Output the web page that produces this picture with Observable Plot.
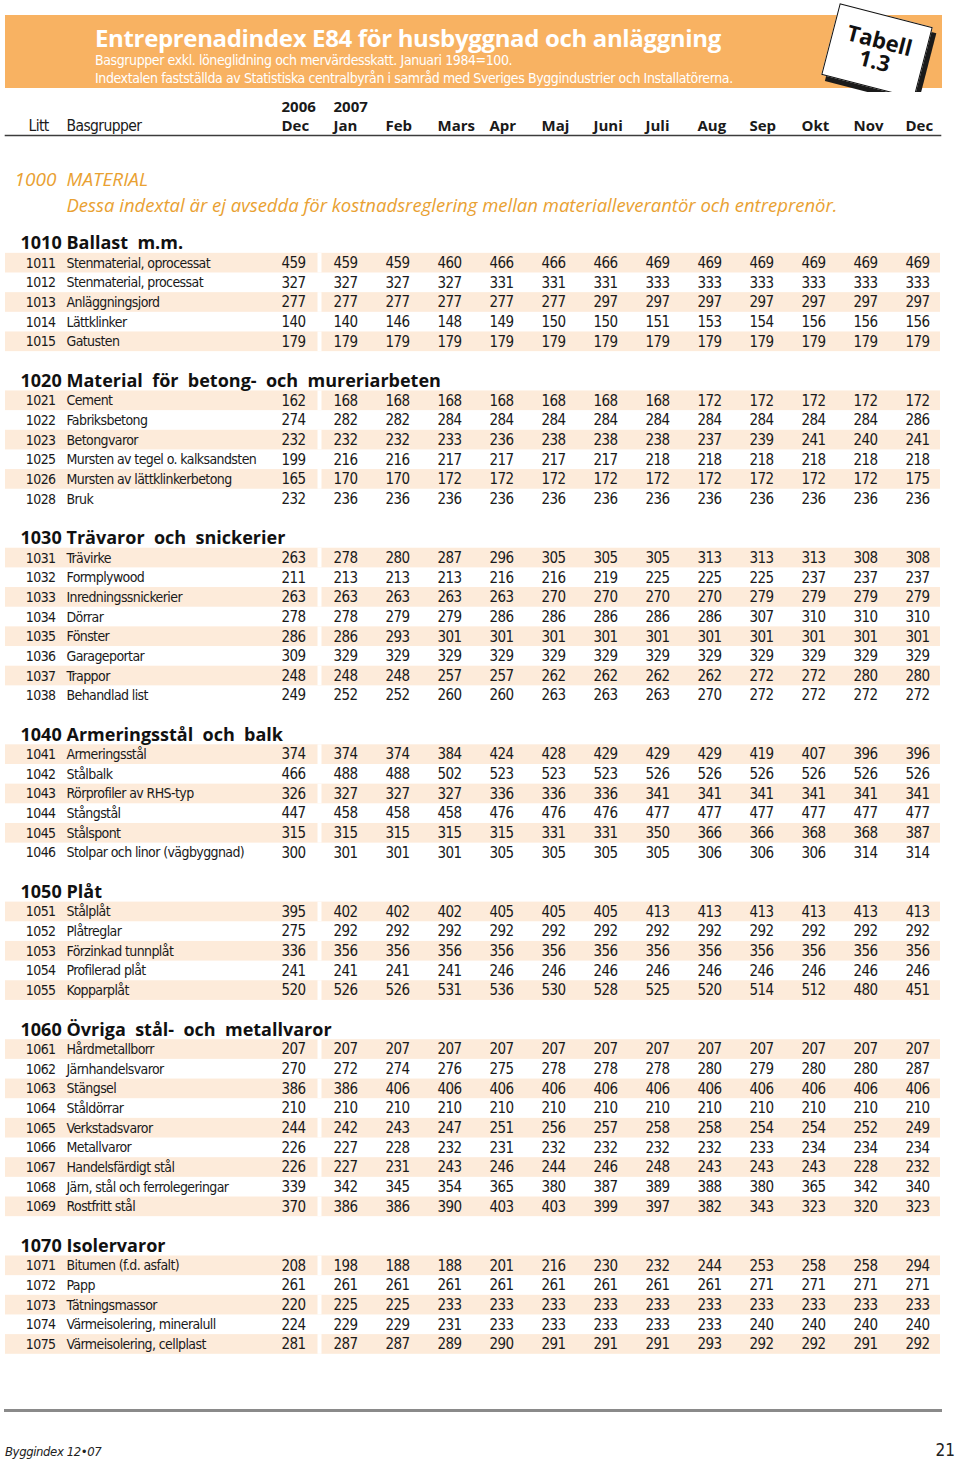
<!DOCTYPE html>
<html>
<head>
<meta charset="utf-8">
<script src="https://cdn.jsdelivr.net/npm/d3@7"></script>
<script src="https://cdn.jsdelivr.net/npm/@observablehq/plot@0.6"></script>
<style>
  body { margin: 0; background: #fff; }
  #page { position: relative; width: 960px; height: 1460px; overflow: hidden;
          font-family: "Liberation Sans Narrow", "DejaVu Sans Condensed", "Arial Narrow", sans-serif; }
  #band { position: absolute; left: 5px; top: 15px; width: 937px; height: 73px; background: #F8B262; }
  #title { position: absolute; left: 95px; top: 21px; color: #fff; font: bold 24px "Open Sans", sans-serif; letter-spacing: -0.35px; white-space: nowrap; }
  .sub { position: absolute; left: 95px; color: #fff; font-size: 14px; letter-spacing: -0.4px; white-space: nowrap; }
  #tabell { position: absolute; left: 829px; top: 14px; width: 96px; height: 74px; background: #fff;
            border: 1px solid #111; box-shadow: 5px 5px 0 #1a1a1a; transform: rotate(14.5deg);
            text-align: center; font: bold 22px/21px "Open Sans", sans-serif; color: #111; box-sizing: border-box; padding-top: 14px; }
  #chart { position: absolute; left: 0; top: 92px; }
  #foot1 { position: absolute; left: 5px; top: 1444px; font-size: 13px; font-style: italic; letter-spacing: -0.4px; color: #222; }
  #foot2 { position: absolute; right: 5px; top: 1440px; font-size: 17px; color: #222; }
</style>
</head>
<body>
<div id="page">
  <div id="band"></div>
  <div id="title">Entreprenadindex E84 för husbyggnad och anläggning</div>
  <div class="sub" style="top:52px">Basgrupper exkl. löneglidning och mervärdesskatt. Januari 1984=100.</div>
  <div class="sub" style="top:70px">Indextalen fastställda av Statistiska centralbyrån i samråd med Sveriges Byggindustrier och Installatörerna.</div>
  <div id="tabell">Tabell<br>1.3</div>
  <div id="chart"></div>
  <div id="foot1">Byggindex 12•07</div>
  <div id="foot2">21</div>
</div>
<script>
// ---------- data ----------
const colKeys = ["2006 Dec","2007 Jan","2007 Feb","2007 Mars","2007 Apr","2007 Maj","2007 Juni","2007 Juli","2007 Aug","2007 Sep","2007 Okt","2007 Nov","2007 Dec"];
const monthLabels = ["Dec","Jan","Feb","Mars","Apr","Maj","Juni","Juli","Aug","Sep","Okt","Nov","Dec"];
const yearLabels = ["2006","2007"];
const headerLitt = "Litt";
const headerName = "Basgrupper";
const sectionCode = "1000";
const sectionName = "MATERIAL";
const sectionNote = "Dessa indextal är ej avsedda för kostnadsreglering mellan materialleverantör och entreprenör.";

const groupCodes = ["1010","1020","1030","1040","1050","1060","1070"];
const groupNames = ["Ballast m.m.","Material för betong- och mureriarbeten","Trävaror och snickerier","Armeringsstål och balk","Plåt","Övriga stål- och metallvaror","Isolervaror"];

const itemCodes = [
  ["1011","1012","1013","1014","1015"],
  ["1021","1022","1023","1025","1026","1028"],
  ["1031","1032","1033","1034","1035","1036","1037","1038"],
  ["1041","1042","1043","1044","1045","1046"],
  ["1051","1052","1053","1054","1055"],
  ["1061","1062","1063","1064","1065","1066","1067","1068","1069"],
  ["1071","1072","1073","1074","1075"]
];
const itemNames = [
  ["Stenmaterial, oprocessat","Stenmaterial, processat","Anläggningsjord","Lättklinker","Gatusten"],
  ["Cement","Fabriksbetong","Betongvaror","Mursten av tegel o. kalksandsten","Mursten av lättklinkerbetong","Bruk"],
  ["Trävirke","Formplywood","Inredningssnickerier","Dörrar","Fönster","Garageportar","Trappor","Behandlad list"],
  ["Armeringsstål","Stålbalk","Rörprofiler av RHS-typ","Stångstål","Stålspont","Stolpar och linor (vägbyggnad)"],
  ["Stålplåt","Plåtreglar","Förzinkad tunnplåt","Profilerad plåt","Kopparplåt"],
  ["Hårdmetallborr","Järnhandelsvaror","Stängsel","Ståldörrar","Verkstadsvaror","Metallvaror","Handelsfärdigt stål","Järn, stål och ferrolegeringar","Rostfritt stål"],
  ["Bitumen (f.d. asfalt)","Papp","Tätningsmassor","Värmeisolering, mineralull","Värmeisolering, cellplast"]
];

const values1010 = [
  [459,459,459,460,466,466,466,469,469,469,469,469,469],
  [327,327,327,327,331,331,331,333,333,333,333,333,333],
  [277,277,277,277,277,277,297,297,297,297,297,297,297],
  [140,140,146,148,149,150,150,151,153,154,156,156,156],
  [179,179,179,179,179,179,179,179,179,179,179,179,179]
];
const values1020 = [
  [162,168,168,168,168,168,168,168,172,172,172,172,172],
  [274,282,282,284,284,284,284,284,284,284,284,284,286],
  [232,232,232,233,236,238,238,238,237,239,241,240,241],
  [199,216,216,217,217,217,217,218,218,218,218,218,218],
  [165,170,170,172,172,172,172,172,172,172,172,172,175],
  [232,236,236,236,236,236,236,236,236,236,236,236,236]
];
const values1030 = [
  [263,278,280,287,296,305,305,305,313,313,313,308,308],
  [211,213,213,213,216,216,219,225,225,225,237,237,237],
  [263,263,263,263,263,270,270,270,270,279,279,279,279],
  [278,278,279,279,286,286,286,286,286,307,310,310,310],
  [286,286,293,301,301,301,301,301,301,301,301,301,301],
  [309,329,329,329,329,329,329,329,329,329,329,329,329],
  [248,248,248,257,257,262,262,262,262,272,272,280,280],
  [249,252,252,260,260,263,263,263,270,272,272,272,272]
];
const values1040 = [
  [374,374,374,384,424,428,429,429,429,419,407,396,396],
  [466,488,488,502,523,523,523,526,526,526,526,526,526],
  [326,327,327,327,336,336,336,341,341,341,341,341,341],
  [447,458,458,458,476,476,476,477,477,477,477,477,477],
  [315,315,315,315,315,331,331,350,366,366,368,368,387],
  [300,301,301,301,305,305,305,305,306,306,306,314,314]
];
const values1050 = [
  [395,402,402,402,405,405,405,413,413,413,413,413,413],
  [275,292,292,292,292,292,292,292,292,292,292,292,292],
  [336,356,356,356,356,356,356,356,356,356,356,356,356],
  [241,241,241,241,246,246,246,246,246,246,246,246,246],
  [520,526,526,531,536,530,528,525,520,514,512,480,451]
];
const values1060 = [
  [207,207,207,207,207,207,207,207,207,207,207,207,207],
  [270,272,274,276,275,278,278,278,280,279,280,280,287],
  [386,386,406,406,406,406,406,406,406,406,406,406,406],
  [210,210,210,210,210,210,210,210,210,210,210,210,210],
  [244,242,243,247,251,256,257,258,258,254,254,252,249],
  [226,227,228,232,231,232,232,232,232,233,234,234,234],
  [226,227,231,243,246,244,246,248,243,243,243,228,232],
  [339,342,345,354,365,380,387,389,388,380,365,342,340],
  [370,386,386,390,403,403,399,397,382,343,323,320,323]
];
const values1070 = [
  [208,198,188,188,201,216,230,232,244,253,258,258,294],
  [261,261,261,261,261,261,261,261,261,271,271,271,271],
  [220,225,225,233,233,233,233,233,233,233,233,233,233],
  [224,229,229,231,233,233,233,233,233,240,240,240,240],
  [281,287,287,289,290,291,291,291,293,292,292,291,292]
];
const groupValues = [values1010, values1020, values1030, values1040, values1050, values1060, values1070];

// ---------- layout (row units) ----------
const PITCH = 19.66;
const nb = s => s.replace(/ /g, "\u00a0\u00a0");
const heads = [], items = [], cells = [], stripes = [];
let u = 0;
groupCodes.forEach((g, gi) => {
  heads.push({u, code: g, name: groupNames[gi]});
  itemCodes[gi].forEach((c, k) => {
    const uu = u + 1 + k;
    items.push({u: uu, code: c, name: itemNames[gi][k]});
    if (k % 2 === 0) stripes.push({u: uu});
    groupValues[gi][k].forEach((v, j) => cells.push({u: uu, col: colKeys[j], v}));
  });
  u += itemCodes[gi].length + 2;
});

const NARROW = "'Liberation Sans Narrow','DejaVu Sans Condensed','Arial Narrow',sans-serif";
const BOLD = "'Open Sans',sans-serif";
const ORANGE = "#E9A132";

const chart = Plot.plot({
  width: 960, height: 1368,
  marginLeft: 5, marginRight: 20, marginTop: 43, marginBottom: 50,
  x: {type: "point", domain: colKeys, range: [279, 907], padding: 0, axis: null},
  y: {type: "linear", domain: [0, 1], range: [151, 151 + PITCH], axis: null},
  style: {fontFamily: NARROW, fontSize: "14px", color: "#1a1a1a", background: "white", overflow: "visible", letterSpacing: "-0.6px"},
  marks: [
    Plot.frame({anchor: "top", stroke: "#3c3c3c", strokeWidth: 1.6}),
    Plot.frame({anchor: "bottom", stroke: "#8a8a8a", strokeWidth: 3}),
    Plot.rect(stripes, {y1: d => d.u - 0.5, y2: d => d.u + 0.5, fill: "#FDEBDA"}),
    Plot.ruleX(stripes, {x: () => colKeys[1], y1: d => d.u - 0.5, y2: d => d.u + 0.5, dx: -14, stroke: "white", strokeWidth: 4}),
    // column headings
    Plot.text(yearLabels, {x: (d, i) => colKeys[i], y: () => -6.92, text: d => d, textAnchor: "start", fontFamily: BOLD, fontWeight: "bold", fontSize: 15}),
    Plot.text(monthLabels, {x: (d, i) => colKeys[i], y: () => -5.95, text: d => d, textAnchor: "start", fontFamily: BOLD, fontWeight: "bold", fontSize: 15}),
    Plot.text([headerLitt], {y: () => -5.95, text: d => d, frameAnchor: "left", textAnchor: "start", dx: 23, fontSize: 15.5}),
    Plot.text([headerName], {y: () => -5.95, text: d => d, frameAnchor: "left", textAnchor: "start", dx: 61, fontSize: 15.5}),
    // section
    Plot.text([sectionCode], {y: () => -3.25, text: d => d, frameAnchor: "left", textAnchor: "start", dx: 9, fill: ORANGE, fontFamily: BOLD, fontStyle: "italic", fontSize: 19}),
    Plot.text([sectionName], {y: () => -3.25, text: d => d, frameAnchor: "left", textAnchor: "start", dx: 61, fill: ORANGE, fontFamily: BOLD, fontStyle: "italic", fontSize: 19}),
    Plot.text([sectionNote], {y: () => -1.88, text: d => d, frameAnchor: "left", textAnchor: "start", dx: 61, fill: ORANGE, fontFamily: BOLD, fontStyle: "italic", fontSize: 18.5}),
    // group headings
    Plot.text(heads, {y: "u", text: "code", frameAnchor: "left", textAnchor: "start", dx: 15, fontFamily: BOLD, fontWeight: "bold", fontSize: 18, fill: "#111"}),
    Plot.text(heads, {y: "u", text: d => nb(d.name), frameAnchor: "left", textAnchor: "start", dx: 61, fontFamily: BOLD, fontWeight: "bold", fontSize: 18, fill: "#111"}),
    // items
    Plot.text(items, {y: "u", text: "code", frameAnchor: "left", textAnchor: "end", dx: 50, fontSize: 14}),
    Plot.text(items, {y: "u", text: "name", frameAnchor: "left", textAnchor: "start", dx: 61, fontSize: 14}),
    Plot.text(cells, {x: "col", y: "u", text: d => String(d.v), textAnchor: "start", fontSize: 15})
  ]
});
// bold/italic headline marks keep normal letter spacing
d3.select(chart).selectAll("g[font-family]").style("letter-spacing", "0px");
document.getElementById("chart").appendChild(chart);
</script>
</body>
</html>
